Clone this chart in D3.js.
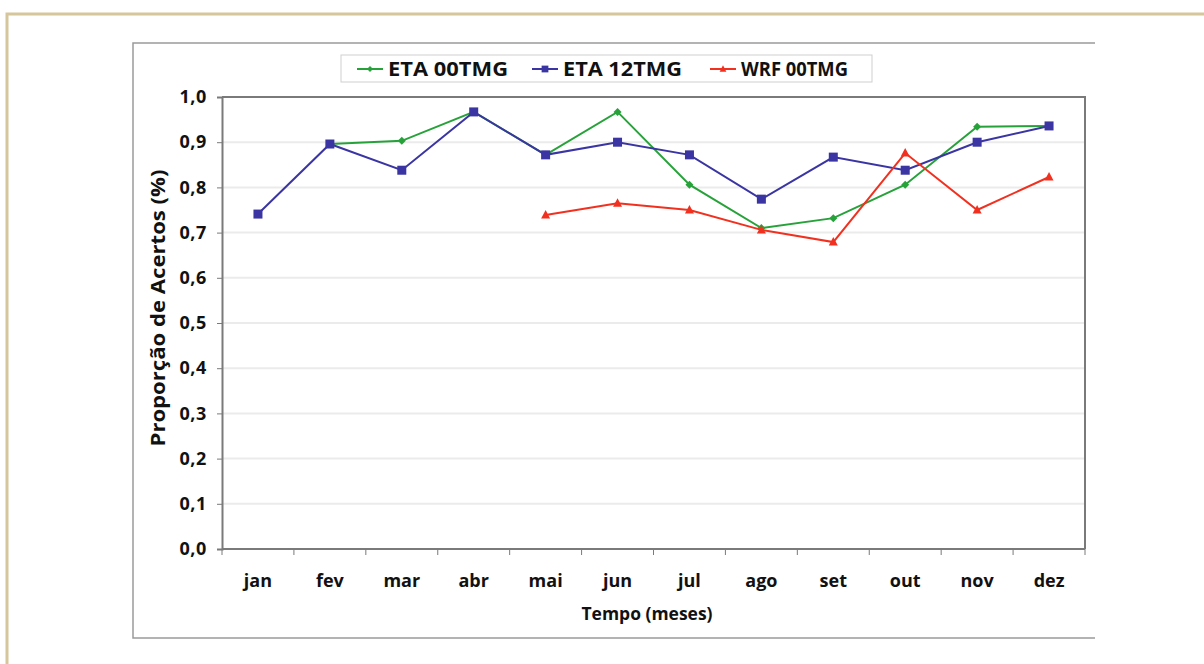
<!DOCTYPE html>
<html><head><meta charset="utf-8">
<script src="https://cdn.jsdelivr.net/npm/d3@7/dist/d3.min.js"></script>
<style>
body{margin:0;background:#fff;}
svg text{font-family:"Open Sans",sans-serif;font-weight:700;fill:#111;}
</style></head><body>
<svg id="c" width="1204" height="664"></svg>
<script>
const months = ["jan","fev","mar","abr","mai","jun","jul","ago","set","out","nov","dez"];
const yTicks = [0,0.1,0.2,0.3,0.4,0.5,0.6,0.7,0.8,0.9,1.0];
const eta00 = [null,0.896,0.903,0.967,0.872,0.967,0.806,0.710,0.732,0.806,0.934,0.936];
const eta12 = [0.741,0.896,0.838,0.967,0.872,0.900,0.872,0.774,0.867,0.838,0.900,0.936];
const wrf00 = [null,null,null,null,0.739,0.765,0.750,0.706,0.679,0.876,0.750,0.823];
const seriesNames = ["ETA 00TMG","ETA 12TMG","WRF 00TMG"];

const series = [
  {name:seriesNames[0], values:eta00, color:"#27a23a", marker:"diamond"},
  {name:seriesNames[1], values:eta12, color:"#3a35a3", marker:"square"},
  {name:seriesNames[2], values:wrf00, color:"#f2301f", marker:"triangle"}
];

const svg = d3.select("#c");
// outer tan frame
svg.append("path").attr("d","M7,664 L7,14 L1204,14").attr("fill","none").attr("stroke","#d6c69c").attr("stroke-width",3);
// chart box
svg.append("path").attr("d","M1095,43 L133,43 L133,638 L1095,638").attr("fill","none").attr("stroke","#9a9a9a").attr("stroke-width",1.5);

const L=222, R=1085, T=97, B=549;
const x = d3.scaleBand().domain(months).range([L,R]);
const y = d3.scaleLinear().domain([0,1]).range([B,T]);

// gridlines
svg.append("g").selectAll("line").data(yTicks.slice(1,-1)).join("line")
  .attr("x1",L+1).attr("x2",R-1).attr("y1",d=>y(d)).attr("y2",d=>y(d))
  .attr("stroke","#ebebeb").attr("stroke-width",2);

// plot frame top/right
svg.append("path").attr("d",`M${L},${T} L${R},${T} L${R},${B}`).attr("fill","none").attr("stroke","#7a7a7a").attr("stroke-width",2);

// y axis
const yAxis = d3.axisLeft(y).tickValues(yTicks).tickSize(5).tickPadding(10)
  .tickFormat(d=>d3.format(".1f")(d).replace(".",","));
const gy = svg.append("g").attr("transform",`translate(${L},0)`).call(yAxis);
gy.select(".domain").attr("stroke","#7a7a7a").attr("stroke-width",2);
gy.selectAll(".tick line").attr("stroke","#7a7a7a");
gy.selectAll("text").style("font-size","18px").style("letter-spacing","0.6px").attr("fill","#111");

// x axis
const gx = svg.append("g").attr("transform",`translate(0,${B})`);
gx.append("line").attr("x1",L).attr("x2",R).attr("stroke","#7a7a7a").attr("stroke-width",2);
const bounds = months.map(m=>x(m)).concat([R]);
gx.selectAll("line.tk").data(bounds).join("line").attr("class","tk")
  .attr("x1",d=>d).attr("x2",d=>d).attr("y1",0).attr("y2",6).attr("stroke","#7a7a7a");
gx.selectAll("text").data(months).join("text")
  .attr("x",d=>x(d)+x.bandwidth()/2).attr("y",38).attr("text-anchor","middle")
  .style("font-size","18px").text(d=>d);

// axis titles
svg.append("text").attr("transform","translate(165,308) rotate(-90)").attr("text-anchor","middle")
  .attr("textLength",277).attr("lengthAdjust","spacingAndGlyphs")
  .style("font-size","20px").text("Proporção de Acertos (%)");
svg.append("text").attr("x",647).attr("y",620).attr("text-anchor","middle")
  .attr("textLength",131).attr("lengthAdjust","spacingAndGlyphs")
  .style("font-size","18px").text("Tempo (meses)");

function drawMarker(g, type, color){
  if(type==="square") g.append("rect").attr("x",-4.5).attr("y",-4.5).attr("width",9).attr("height",9).attr("fill",color);
  else if(type==="diamond") g.append("path").attr("d","M0,-4 L4,0 L0,4 L-4,0Z").attr("fill",color);
  else g.append("path").attr("d","M0,-5 L4.5,3.5 L-4.5,3.5Z").attr("fill",color);
}

// lines
const line = d3.line().defined(d=>d.v!==null).x(d=>x(d.m)+x.bandwidth()/2).y(d=>y(d.v));
series.forEach(s=>{
  const pts = months.map((m,i)=>({m:m,v:s.values[i]}));
  svg.append("path").datum(pts).attr("d",line).attr("fill","none").attr("stroke",s.color).attr("stroke-width",2);
  pts.filter(d=>d.v!==null).forEach(d=>{
    const g = svg.append("g").attr("transform",`translate(${x(d.m)+x.bandwidth()/2},${y(d.v)})`);
    drawMarker(g,s.marker,s.color);
  });
});

// legend
svg.append("rect").attr("x",341).attr("y",55).attr("width",531).attr("height",27)
  .attr("fill","#fff").attr("stroke","#cfcfcf").attr("stroke-width",1);
const legX = [357,532,710];
const legW = [120,119,107];
series.forEach((s,i)=>{
  const g = svg.append("g").attr("transform",`translate(${legX[i]},69)`);
  g.append("line").attr("x1",0).attr("x2",26).attr("stroke",s.color).attr("stroke-width",2);
  const mg = g.append("g").attr("transform","translate(13,0) scale(0.75)");
  drawMarker(mg,s.marker,s.color);
  g.append("text").attr("x",31).attr("y",7).style("font-size","19px")
    .attr("textLength",legW[i]).attr("lengthAdjust","spacingAndGlyphs").text(s.name);
});
</script>
</body></html>
